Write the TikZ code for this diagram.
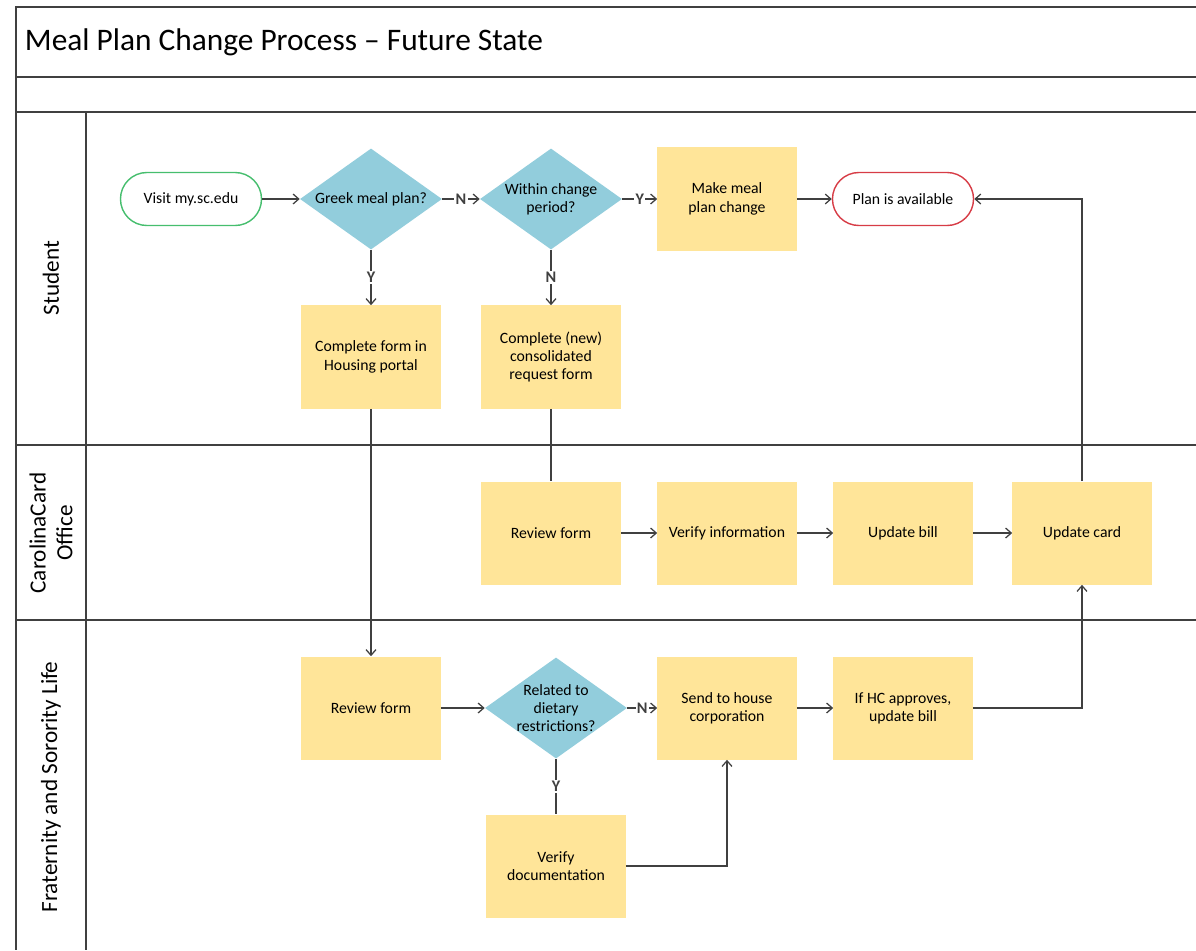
\documentclass[tikz,border=0pt]{standalone}
\usepackage{fontspec}
\setmainfont{Carlito}
\usetikzlibrary{shapes.geometric,arrows.meta}
\definecolor{Boxyellow}{RGB}{255,229,153}
\definecolor{Diamondblue}{RGB}{146,205,220}
\definecolor{Startgreen}{RGB}{70,190,110}
\definecolor{Endred}{RGB}{215,60,70}
\definecolor{Linegray}{RGB}{64,64,64}

\begin{document}
\begin{tikzpicture}[x=0.025cm, y=-0.025cm,
        every node/.style={font=\fontsize{11.2}{13}\selectfont, align=center},
        task/.style={fill=Boxyellow, minimum width=3.475cm, minimum height=2.575cm, inner sep=2pt},
        decision/.style={diamond, fill=Diamondblue, aspect=1.4, inner sep=-5pt, minimum width=3.55cm, minimum height=2.525cm},
        terminal/.style={draw, line width=1pt, rounded corners=0.66cm, minimum width=3.525cm, minimum height=1.325cm, fill=white},
        lane/.style={Linegray, line width=1.3pt},
        lanename/.style={rotate=90, font=\fontsize{16.5}{19}\selectfont},
        link/.style={Linegray, line width=0.9pt},
        flow/.style={link, ->, >={Straight Barb[length=4pt, width=7pt]}},
        yn/.style={fill=white, inner sep=1pt, font=\fontsize{11.5}{12}\selectfont\bfseries}]
    \useasboundingbox (0,0) rectangle (1196,950);

    % pool and lanes
    \draw[lane] (1196,7) -- (16,7) -- (16,950);
    \draw[lane] (86,112) -- (86,950);
    \foreach \y in {77,112,445,620}{
        \draw[lane] (16,\y) -- (1196,\y);
    }
    \node[anchor=west, font=\fontsize{22.3}{26}\selectfont] (title) at (20,42) {Meal Plan Change Process -- Future State};
    \node[lanename] (student) at (51,278) {Student};
    \node[lanename] (cardoffice) at (51,533) {CarolinaCard\\Office};
    \node[lanename] (fsl) at (51,787) {Fraternity and Sorority Life};

    % student lane
    \node[terminal, draw=Startgreen] (visit) at (191,199) {Visit my.sc.edu};
    \node[decision] (greek) at (371,199) {Greek meal plan?};
    \node[decision] (within) at (551,199) {Within change\\period?};
    \node[task] (make) at (727,199) {Make meal\\plan change};
    \node[terminal, draw=Endred] (avail) at (903,199) {Plan is available};
    \node[task] (housing) at (371,357) {Complete form in\\Housing portal};
    \node[task] (consol) at (551,357) {Complete (new)\\consolidated\\request form};

    % carolinacard office lane
    \node[task] (ccreview) at (551,533) {Review form};
    \node[task] (verifyinfo) at (727,533) {Verify information};
    \node[task] (ccbill) at (903,533) {Update bill};
    \node[task] (updcard) at (1082,533) {Update card};

    % fraternity and sorority life lane
    \node[task] (fslreview) at (371,708) {Review form};
    \node[decision] (related) at (556,708) {Related to\\dietary\\restrictions?};
    \node[task] (send) at (727,708) {Send to house\\corporation};
    \node[task] (hcbill) at (903,708) {If HC approves,\\update bill};
    \node[task] (verifydoc) at (556,866) {Verify\\documentation};

    % connectors
    \draw[flow] (visit) -- (greek);
    \draw[flow] (greek) -- node[yn]{N} (within);
    \draw[flow] (within) -- node[yn]{Y} (make);
    \draw[flow] (make) -- (avail);
    \draw[flow] (greek) -- node[yn]{Y} (housing);
    \draw[flow] (within) -- node[yn]{N} (consol);
    \draw[flow] (housing) -- (fslreview);
    \draw[link] (consol) -- (ccreview);
    \draw[flow] (ccreview) -- (verifyinfo);
    \draw[flow] (verifyinfo) -- (ccbill);
    \draw[flow] (ccbill) -- (updcard);
    \draw[flow] (updcard) |- (avail);
    \draw[flow] (fslreview) -- (related);
    \draw[flow] (related) -- node[yn]{N} (send);
    \draw[link] (related) -- node[yn]{Y} (verifydoc);
    \draw[flow] (verifydoc) -| (send);
    \draw[flow] (send) -- (hcbill);
    \draw[flow] (hcbill) -| (updcard);
\end{tikzpicture}
\end{document}
